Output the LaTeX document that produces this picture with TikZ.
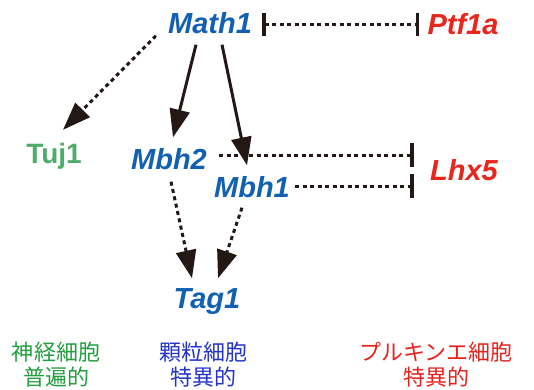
\documentclass[tikz,border=0pt]{standalone}
\usepackage{fontspec}
\setmainfont{Liberation Sans}
\newfontfamily\genefont{Liberation Sans}
\newfontfamily\cjkfont{Noto Sans CJK JP}
\usetikzlibrary{arrows.meta}
\definecolor{geneblue}{RGB}{18,96,178}
\definecolor{genered}{RGB}{232,38,28}
\definecolor{genegreen}{RGB}{76,174,106}
\definecolor{cjkgreen}{RGB}{34,158,62}
\definecolor{cjkblue}{RGB}{36,52,200}
\definecolor{cjkred}{RGB}{230,34,30}
\definecolor{ink}{RGB}{35,24,21}
\begin{document}
\begin{tikzpicture}[x=1pt,y=-1pt,
  gene/.style={inner sep=0pt, text height=21pt, text depth=0pt,
    font=\genefont\bfseries\itshape\fontsize{29}{31}\selectfont},
  generoman/.style={inner sep=0pt, text height=20pt, text depth=0pt,
    font=\genefont\bfseries\fontsize{28}{30}\selectfont},
  cjklabel/.style={inner sep=0pt, align=center,
    font=\cjkfont\fontsize{22}{25}\selectfont},
  dotline/.style={draw=ink, line width=3pt, dash pattern=on 4pt off 3.5pt},
  solidarrow/.style={draw=ink, line width=3pt,
    -{Triangle[length=28pt,width=20pt]}},
  dotarrow/.style={dotline, -{Triangle[length=28pt,width=20pt]}},
  inhibboth/.style={dotline, {Bar[width=23pt,line width=3.5pt]}-{Bar[width=23pt,line width=3.5pt]}},
  inhibend/.style={dotline, -{Bar[width=24pt,line width=3.5pt]}}
]
\useasboundingbox (0,0) rectangle (534,389);

\node[gene, text=geneblue] (math1) at (210,23) {Math1};
\node[gene, text=genered] (ptf1a) at (463,24) {Ptf1a};
\node[generoman, text=genegreen] (tuj1) at (54,153) {Tuj1};
\node[gene, text=geneblue] (mbh2) at (169,159) {Mbh2};
\node[gene, text=geneblue] (mbh1) at (252,187) {Mbh1};
\node[gene, text=genered] (lhx5) at (464,170) {Lhx5};
\node[gene, text=geneblue] (tag1) at (207,298) {Tag1};

\node[cjklabel, text=cjkgreen] (lab1) at (56,365) {神経細胞\\普遍的};
\node[cjklabel, text=cjkblue] (lab2) at (203,365) {顆粒細胞\\特異的};
\node[cjklabel, text=cjkred] (lab3) at (436,365) {プルキンエ細胞\\特異的};

% inhibition Math1 -- Ptf1a
\draw[inhibboth] ([xshift=10pt,yshift=-1pt]math1.east) -- ([xshift=-8pt]ptf1a.west);

% Math1 -> Tuj1
\draw[dotarrow] ([xshift=-12pt,yshift=-2pt]math1.south west) -- ([xshift=9pt,yshift=13pt]tuj1.north);
% Math1 -> Mbh2, Mbh1
\draw[solidarrow] ([xshift=-14pt,yshift=-11pt]math1.south) -- ([xshift=4pt,yshift=11pt]mbh2.north);
\draw[solidarrow] ([xshift=12pt,yshift=-11pt]math1.south) -- ([xshift=-5pt,yshift=11pt]mbh1.north);

% Mbh2, Mbh1 -| Lhx5
\draw[inhibend] ([xshift=12pt,yshift=4pt]mbh2.east) -- ([xshift=-16pt,yshift=15pt]lhx5.west);
\draw[inhibend] ([xshift=5pt,yshift=1pt]mbh1.east) -- ([xshift=-16pt,yshift=-16pt]lhx5.west);

% Mbh2, Mbh1 -> Tag1
\draw[dotarrow] ([xshift=2pt,yshift=-12pt]mbh2.south) -- ([xshift=-15pt,yshift=9pt]tag1.north);
\draw[dotarrow] ([xshift=-10pt,yshift=-10pt]mbh1.south) -- ([xshift=11pt,yshift=9pt]tag1.north);
\end{tikzpicture}
\end{document}
